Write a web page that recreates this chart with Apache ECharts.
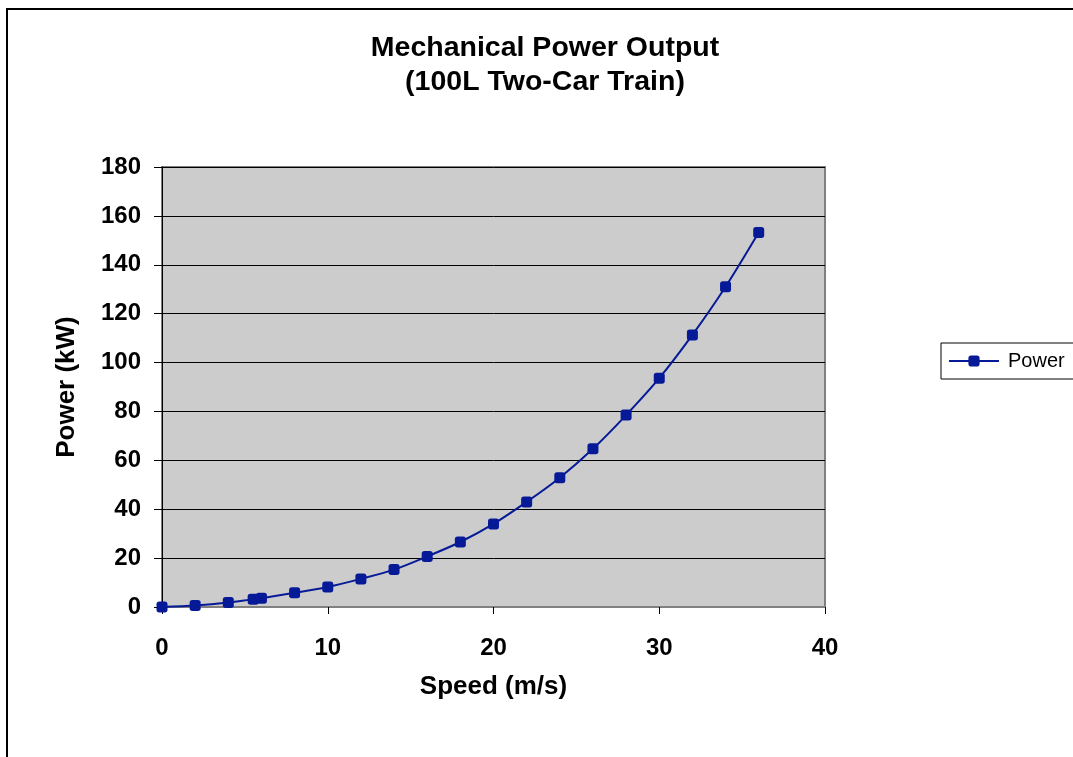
<!DOCTYPE html>
<html>
<head>
<meta charset="utf-8">
<script src="https://cdn.jsdelivr.net/npm/echarts@6/dist/echarts.min.js"></script>
<style>
html,body{margin:0;padding:0;background:#fff;}
#c{width:1073px;height:757px;}
</style>
</head>
<body>
<div id="c"></div>
<script>
const speed = [0, 2, 4, 5.5, 6, 8, 10, 12, 14, 16, 18, 20, 22, 24, 26, 28, 30, 32, 34, 36];
const power = [0, 0.6, 1.8, 3.2, 3.6, 5.8, 8.2, 11.5, 15.3, 20.7, 26.6, 34.0, 43.0, 52.9, 64.7, 78.5, 93.6, 111.3, 131.0, 153.2];
const titleText = 'Mechanical Power Output\n(100L Two-Car Train)';
const xName = 'Speed (m/s)';
const yName = 'Power (kW)';
const seriesName = 'Power';

const FONT = 'Arial, "Liberation Sans", sans-serif';
const chart = echarts.init(document.getElementById('c'), null, {renderer: 'canvas'});
chart.setOption({
  animation: false,
  backgroundColor: '#ffffff',
  graphic: [{
    type: 'rect', silent: true, z: -1,
    shape: {x: 7, y: 9, width: 1100, height: 800},
    style: {fill: 'none', stroke: '#000', lineWidth: 2}
  }],
  title: {
    text: titleText,
    left: 540, top: 26, textAlign: 'center',
    textStyle: {fontFamily: FONT, fontSize: 28.5, fontWeight: 'bold', color: '#000', lineHeight: 34}
  },
  legend: {
    left: 941, top: 343,
    orient: 'vertical',
    padding: [8, 12, 8, 7],
    borderColor: '#000', borderWidth: 1,
    itemWidth: 50, itemHeight: 14,
    textStyle: {fontFamily: FONT, fontSize: 20, color: '#000', padding: [0, 0, 0, 4]},
    data: [seriesName]
  },
  grid: {
    left: 162, right: 248, top: 167, bottom: 150,
    show: true, backgroundColor: '#cccccc', borderColor: '#808080', borderWidth: 2
  },
  xAxis: {
    type: 'value', min: 0, max: 40, interval: 10,
    name: xName, nameLocation: 'middle', nameGap: 67,
    nameTextStyle: {fontFamily: FONT, fontSize: 26, fontWeight: 'bold', color: '#000'},
    axisLine: {show: true, lineStyle: {color: '#808080', width: 2}},
    axisTick: {show: true, length: 7, lineStyle: {color: '#000', width: 1}},
    axisLabel: {fontFamily: FONT, fontSize: 24, fontWeight: 'bold', color: '#000', margin: 29},
    splitLine: {show: false}
  },
  yAxis: {
    type: 'value', min: 0, max: 180, interval: 20,
    name: yName, nameLocation: 'middle', nameGap: 82, nameRotate: 90,
    nameTextStyle: {fontFamily: FONT, fontSize: 26, fontWeight: 'bold', color: '#000'},
    axisLine: {show: true, lineStyle: {color: '#000', width: 1}},
    axisTick: {show: true, length: 8, lineStyle: {color: '#000', width: 1}},
    axisLabel: {fontFamily: FONT, fontSize: 24, fontWeight: 'bold', color: '#000', margin: 21},
    splitLine: {show: true, lineStyle: {color: '#000', width: 1}}
  },
  series: [{
    name: seriesName,
    type: 'line',
    data: speed.map((v, i) => [v, power[i]]),
    smooth: 0.3,
    symbol: 'roundRect', symbolSize: 11,
    itemStyle: {color: '#061a98'},
    lineStyle: {color: '#061a98', width: 2}
  }]
});
</script>
</body>
</html>
